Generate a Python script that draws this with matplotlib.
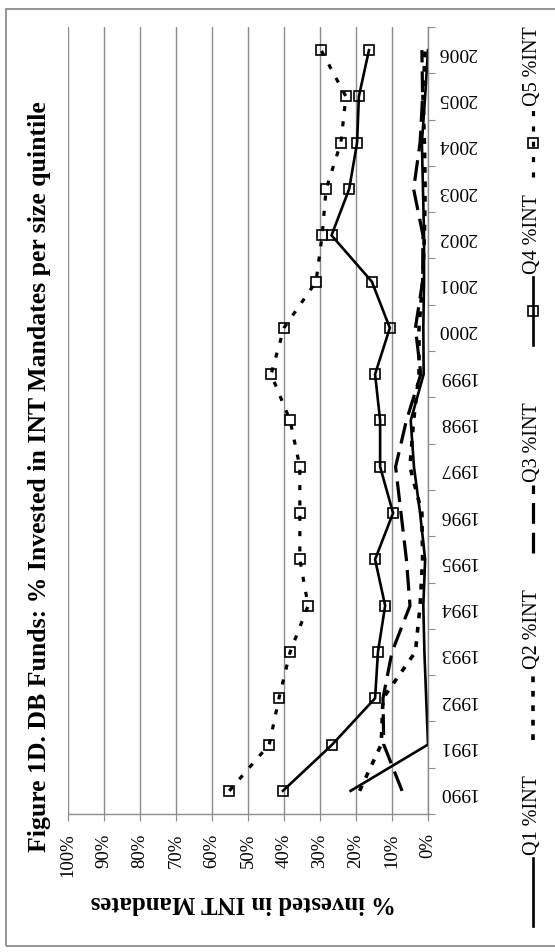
import numpy as np
import matplotlib
matplotlib.use("Agg")
import matplotlib.pyplot as plt
from matplotlib.lines import Line2D
from matplotlib.patches import Rectangle

plt.rcParams['font.family'] = ['Liberation Serif', 'DejaVu Serif']

years = [str(y) for y in range(1990, 2007)]
q1 = [21.5, 0.0, 0.5, 1.0, 1.3, 0.8, 2.2, 3.9, 4.8, 1.2, 1.3, 1.1, 1.1, 1.4, 1.7, 0.8, 0.0]
q2 = [19.0, 13.0, 12.5, 3.5, 2.2, 1.5, 1.7, 5.0, 4.0, 2.5, 2.5, 1.5, 1.0, 0.8, 1.0, 1.4, 0.8]
q3 = [7.2, 12.3, 12.5, 10.0, 5.0, 6.0, 7.5, 9.0, 6.0, 2.0, 3.5, 1.5, 1.4, 4.0, 2.2, 1.5, 1.7]
q4 = [40.3, 26.6, 14.7, 13.9, 11.9, 14.7, 9.7, 13.3, 13.3, 14.7, 10.6, 15.6, 26.8, 21.9, 19.7, 19.2, 16.4]
q5 = [55.2, 44.1, 41.4, 38.3, 33.3, 35.6, 35.6, 35.6, 38.3, 43.6, 40.0, 31.1, 29.4, 28.3, 24.2, 22.8, 29.7]
names = ["Q1 %INT", "Q2 %INT", "Q3 %INT", "Q4 %INT", "Q5 %INT"]
pct_ticks = list(range(0, 101, 10))

W, H = 555, 952
fig = plt.figure(figsize=(W / 100, H / 100), dpi=100)

def fx(x):
    return x / W

def fy(y):
    return 1 - y / H

# outer frame
fig.add_artist(Rectangle((fx(6), fy(946)), fx(560) - fx(6), fy(9) - fy(946),
                         transform=fig.transFigure, fill=False, ec="#8c8c8c", lw=1.3))

ax = fig.add_axes([fx(68), fy(814), fx(428) - fx(68), fy(27) - fy(814)])

styles = [
    dict(color="black", lw=1.9, ls="-"),
    dict(color="black", lw=2.6, ls=(0, (1.6, 2.4))),
    dict(color="black", lw=2.3, ls=(0, (6.5, 2.8))),
    dict(color="black", lw=1.9, ls="-", marker="s", ms=6.5, mfc="none", mew=1.2),
    dict(color="black", lw=2.3, ls=(0, (1.6, 3.2)), marker="s", ms=6.5, mfc="none", mew=1.2),
]

idx = np.arange(len(years))
for vals, st in zip([q1, q2, q3, q4, q5], styles):
    ax.plot(vals, idx, **st)

ax.set_xlim(100, 0)
ax.set_ylim(-0.5, len(years) - 0.5)

ax.set_xticks(pct_ticks)
ax.set_xticklabels([f"{t}%" for t in pct_ticks], rotation=90, fontsize=13.5)
ax.grid(axis="x", color="#8c8c8c", lw=1)
ax.set_axisbelow(True)

ax.yaxis.tick_right()
ax.set_yticks(np.arange(-0.5, len(years), 1))
ax.set_yticklabels([])
ax.set_yticks(idx, minor=True)
ax.set_yticklabels(years, minor=True, rotation=180, fontsize=14)
ax.tick_params(axis="y", which="minor", length=0, pad=7)
ax.tick_params(axis="y", which="major", length=5, color="#8c8c8c", direction="out")
ax.tick_params(axis="x", length=5, color="#8c8c8c", direction="out", pad=9)

for s in ["left", "top"]:
    ax.spines[s].set_visible(False)
for s in ["right", "bottom"]:
    ax.spines[s].set_color("#8c8c8c")
    ax.spines[s].set_linewidth(1)

fig.text(fx(40), fy(477), "Figure 1D. DB Funds: % Invested in INT Mandates per size quintile",
         rotation=90, ha="center", va="center", fontsize=18.5, fontweight="bold")
fig.text(fx(243), fy(903), "% invested in INT Mandates", rotation=180,
         ha="center", va="center", fontsize=17.8, fontweight="bold")

# legend drawn by hand, rotated with the chart
leg_bottom = [926, 740, 553, 345, 177]
for name, st, yb in zip(names, styles, leg_bottom):
    yt = yb - 68
    fig.add_artist(Line2D([fx(533), fx(533)], [fy(yb), fy(yt)], transform=fig.transFigure,
                          color=st["color"], lw=st["lw"], ls=st["ls"]))
    if "marker" in st:
        fig.add_artist(Line2D([fx(533)], [fy((yb + yt) / 2)], transform=fig.transFigure,
                              color="black", marker="s", ms=6.5, mfc="none", mew=1.2, ls="none"))
    fig.text(fx(533), fy(yt - 3), name, rotation=90, ha="center", va="bottom", fontsize=14.5)

fig.savefig("out.png", dpi=100)
